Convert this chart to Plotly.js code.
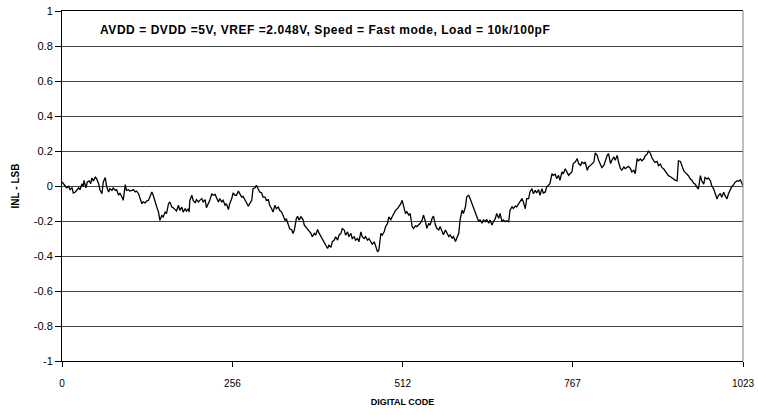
<!DOCTYPE html>
<html>
<head>
<meta charset="utf-8">
<script src="https://cdn.plot.ly/plotly-3.0.1.min.js"></script>
<style>html,body{margin:0;padding:0;background:#fff}#chart{width:758px;height:415px}.annotation-text{letter-spacing:0.55px}</style>
</head>
<body>
<div id="chart"></div>
<script>
const codes = [0,2,5,7,10,12,15,17,20,22,25,27,30,32,33,36,38,41,43,45,47,50,52,55,57,60,62,65,67,70,72,75,77,80,82,85,87,90,92,95,97,100,102,105,107,110,112,115,117,120,122,125,127,130,132,135,137,140,142,145,147,150,152,155,157,160,162,165,167,170,
172,175,177,180,182,185,187,190,191,192,195,197,200,202,205,207,210,212,215,217,220,222,225,227,230,232,235,237,240,242,245,247,250,252,255,257,260,262,265,267,270,272,275,277,280,282,285,287,290,292,295,297,300,302,305,307,310,312,315,317,320,322,325,327,330,332,335,337,340,342,345,
347,349,352,354,356,359,362,364,366,369,371,374,376,379,381,384,386,389,391,394,396,399,401,404,406,409,411,414,416,419,421,424,426,429,431,434,436,439,441,444,446,449,451,454,456,459,461,464,466,469,471,474,476,479,481,484,486,489,491,494,496,499,501,504,506,509,511,514,516,
518,521,523,526,528,531,533,536,538,541,543,546,548,551,553,556,558,561,563,566,568,571,573,576,578,581,583,586,588,591,593,596,598,601,603,606,608,611,613,616,618,621,623,626,628,631,633,636,638,641,643,646,648,651,653,656,658,661,663,666,668,671,673,676,678,681,683,686,688,691,
693,696,698,701,703,706,708,711,713,716,718,721,723,726,728,731,733,736,738,741,743,746,748,751,753,756,758,761,763,766,768,771,774,776,779,781,784,786,789,791,794,796,799,801,804,806,809,811,814,816,819,821,824,826,829,831,834,836,839,841,844,846,849,851,854,856,859,861,864,
866,869,871,874,876,879,881,884,886,889,891,894,896,899,901,904,906,909,911,914,916,919,921,924,926,929,931,934,936,939,941,944,946,949,951,954,956,959,961,964,966,969,971,974,976,979,981,984,986,989,991,994,996,999,1001,1004,1006,1009,1011,1014,1016,1019,1021,1023];

const inlLsb = [0.023,0.013,0.004,-0.010,-0.002,-0.021,-0.010,-0.040,-0.034,-0.025,-0.010,-0.021,0.013,-0.002,0.032,-0.010,0.023,0.029,0.013,0.046,0.029,0.051,0.042,0.013,-0.021,-0.044,0.023,0.048,-0.002,-0.034,-0.015,-0.025,-0.011,-0.025,-0.021,-0.053,-0.040,-0.063,-0.082,0.008,-0.025,-0.021,-0.029,-0.025,-0.021,-0.034,-0.029,-0.044,-0.072,-0.101,-0.091,-0.097,-0.086,-0.082,-0.063,-0.034,-0.053,-0.101,-0.116,-0.149,-0.196,-0.168,-0.177,-0.149,-0.158,-0.101,-0.091,-0.120,-0.124,-0.135,
-0.143,-0.110,-0.139,-0.120,-0.149,-0.130,-0.143,-0.130,-0.149,-0.082,-0.053,-0.082,-0.097,-0.078,-0.091,-0.082,-0.072,-0.091,-0.078,-0.124,-0.101,-0.082,-0.044,-0.053,-0.048,-0.063,-0.091,-0.072,-0.091,-0.082,-0.110,-0.101,-0.135,-0.101,-0.072,-0.040,-0.053,-0.053,-0.029,-0.044,-0.063,-0.059,-0.082,-0.101,-0.116,-0.101,-0.082,-0.015,-0.010,0.004,-0.021,-0.034,-0.040,-0.063,-0.063,-0.082,-0.078,-0.110,-0.130,-0.149,-0.110,-0.130,-0.120,-0.139,-0.149,-0.168,-0.196,-0.187,-0.215,-0.244,-0.250,
-0.271,-0.252,-0.186,-0.173,-0.195,-0.176,-0.192,-0.224,-0.233,-0.252,-0.262,-0.271,-0.290,-0.271,-0.281,-0.249,-0.268,-0.290,-0.300,-0.319,-0.338,-0.357,-0.338,-0.351,-0.319,-0.309,-0.290,-0.309,-0.281,-0.271,-0.243,-0.252,-0.281,-0.262,-0.290,-0.271,-0.300,-0.290,-0.309,-0.300,-0.319,-0.262,-0.290,-0.300,-0.290,-0.309,-0.300,-0.319,-0.332,-0.319,-0.347,-0.376,-0.366,-0.271,-0.281,-0.262,-0.233,-0.214,-0.176,-0.192,-0.176,-0.158,-0.139,-0.129,-0.120,-0.101,-0.082,-0.129,-0.158,
-0.147,-0.166,-0.157,-0.232,-0.242,-0.228,-0.232,-0.223,-0.213,-0.194,-0.166,-0.204,-0.242,-0.213,-0.223,-0.185,-0.172,-0.223,-0.242,-0.251,-0.232,-0.260,-0.279,-0.251,-0.270,-0.289,-0.279,-0.298,-0.289,-0.317,-0.298,-0.270,-0.194,-0.138,-0.157,-0.119,-0.062,-0.053,-0.072,-0.100,-0.128,-0.147,-0.175,-0.204,-0.194,-0.213,-0.194,-0.204,-0.191,-0.213,-0.194,-0.223,-0.204,-0.185,-0.157,-0.185,-0.157,-0.204,-0.194,-0.204,-0.198,-0.204,-0.138,-0.119,-0.128,-0.115,-0.119,-0.100,-0.091,-0.072,
-0.091,-0.130,-0.072,-0.072,-0.034,-0.015,-0.044,-0.025,-0.040,-0.021,-0.053,-0.015,-0.040,-0.034,-0.006,0.004,0.013,0.070,0.061,0.067,0.042,0.061,0.032,0.080,0.070,0.099,0.080,0.061,0.070,0.080,0.128,0.137,0.156,0.128,0.118,0.137,0.128,0.137,0.090,0.109,0.118,0.128,0.137,0.189,0.175,0.147,0.118,0.105,0.118,0.147,0.175,0.185,0.128,0.147,0.166,0.147,0.175,0.137,0.099,0.090,0.109,0.099,0.105,0.112,0.099,0.080,0.090,0.070,0.156,
0.144,0.154,0.144,0.154,0.173,0.182,0.201,0.186,0.163,0.144,0.135,0.140,0.116,0.125,0.106,0.097,0.087,0.068,0.059,0.053,0.046,0.040,0.034,0.030,0.144,0.140,0.116,0.087,0.078,0.068,0.059,0.040,0.034,0.015,0.011,-0.008,-0.017,0.059,0.030,0.011,0.049,0.040,0.046,0.030,0.002,-0.017,-0.036,-0.074,-0.055,-0.042,-0.065,-0.036,-0.055,-0.074,-0.046,-0.017,-0.004,0.008,0.021,0.030,0.027,0.034,0.021,0.002];

const xTickVals = [0, 256, 512, 767, 1023];
const xTickText = ['0', '256', '512', '767', '1023'];
const yTickVals = [1, 0.8, 0.6, 0.4, 0.2, 0, -0.2, -0.4, -0.6, -0.8, -1];
const yTickText = ['1', '0.8', '0.6', '0.4', '0.2', '0', '-0.2', '-0.4', '-0.6', '-0.8', '-1'];
const noteText = 'AVDD = DVDD =5V, VREF =2.048V, Speed = Fast mode, Load = 10k/100pF';

const font = 'Arial, "Liberation Sans", sans-serif';

const trace = {
  x: codes, y: inlLsb, type: 'scatter', mode: 'lines',
  line: {color: '#000000', width: 1.3},
  hoverinfo: 'x+y', showlegend: false
};

const layout = {
  width: 758, height: 415,
  margin: {l: 62, r: 15, t: 11, b: 54},
  paper_bgcolor: '#ffffff', plot_bgcolor: '#ffffff',
  font: {family: font, size: 10, color: '#000'},
  xaxis: {
    range: [0, 1023], tickvals: xTickVals, ticktext: xTickText,
    ticks: 'outside', ticklen: 5, tickcolor: '#000', tickwidth: 1,
    ticklabelstandoff: 8,
    showline: true, linecolor: '#000', linewidth: 1, mirror: true,
    showgrid: false, zeroline: false,
    tickfont: {family: font, size: 10, color: '#000'},
    title: {text: 'DIGITAL CODE', font: {family: font, size: 9, color: '#000', weight: 'bold'}, standoff: 10}
  },
  yaxis: {
    range: [-1, 1], tickvals: yTickVals, ticktext: yTickText,
    ticks: 'outside', ticklen: 6, tickcolor: '#000', tickwidth: 1,
    showline: true, linecolor: '#000', linewidth: 1, mirror: false,
    showgrid: true, gridcolor: '#444', gridwidth: 1, zeroline: false,
    tickfont: {family: font, size: 11, color: '#000'},
    title: {text: 'INL - LSB', font: {family: font, size: 10, color: '#000', weight: 'bold'}, standoff: 12}
  },
  shapes: [
    {type: 'line', xref: 'paper', yref: 'paper', x0: 1, x1: 1, y0: 0, y1: 1, line: {color: '#808080', width: 1}}
  ],
  annotations: [
    {text: noteText, xref: 'paper', yref: 'paper', x: 0.053, y: 0.945, xanchor: 'left', yanchor: 'middle',
     showarrow: false, font: {family: font, size: 12, color: '#000', weight: 'bold'}}
  ]
};

Plotly.newPlot('chart', [trace], layout, {displayModeBar: false, staticPlot: true});
</script>
</body>
</html>
